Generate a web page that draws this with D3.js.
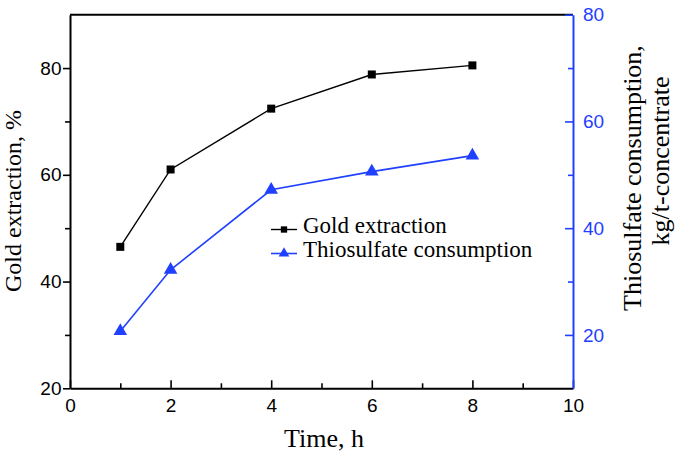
<!DOCTYPE html>
<html>
<head>
<meta charset="utf-8">
<script src="https://cdn.jsdelivr.net/npm/d3@7"></script>
<style>
  html, body { margin: 0; padding: 0; background: #fff; }
  svg { display: block; }
</style>
</head>
<body>
<script>
// ---- data ----
const times = [1, 2, 4, 6, 8];
const goldExtraction = [46.5, 61.0, 72.4, 78.8, 80.5];
const thiosulfateConsumption = [20.7, 32.2, 47.2, 50.6, 53.6];
const xTicks = [0, 2, 4, 6, 8, 10];
const xMinorTicks = [1, 3, 5, 7, 9];
const leftTicks = [20, 40, 60, 80];
const leftMinorTicks = [30, 50, 70];
const rightTicks = [20, 40, 60, 80];
const rightMinorTicks = [30, 50, 70];
const seriesNames = ["Gold extraction", "Thiosulfate consumption"];

// ---- layout ----
const W = 685, H = 459;
const pLeft = 70, pRight = 573, pTop = 14.7, pBottom = 388.3;
const BLUE = "#1f40ff";
const serif = "'Liberation Serif', 'Times New Roman', serif";
const sans = "'Liberation Sans', Arial, sans-serif";

const svg = d3.select("body").append("svg").attr("width", W).attr("height", H);

const x = d3.scaleLinear().domain([0, 10]).range([pLeft, pRight]);
const yL = d3.scaleLinear().domain([20, 90]).range([pBottom, pTop]);
const yR = d3.scaleLinear().domain([10, 80]).range([pBottom, pTop]);

function styleAxis(g, color) {
  g.selectAll("path.domain").attr("stroke", color).attr("stroke-width", 2);
  g.selectAll(".tick line").attr("stroke", color).attr("stroke-width", 1.6);
  g.selectAll(".tick text").attr("fill", color).style("font-family", sans).style("font-size", "19px");
}

// top frame line
svg.append("line").attr("x1", pLeft).attr("x2", pRight).attr("y1", pTop).attr("y2", pTop)
  .attr("stroke", "#000").attr("stroke-width", 2);

// bottom axis (ticks inward)
const gx = svg.append("g").attr("transform", `translate(0,${pBottom})`)
  .call(d3.axisBottom(x).tickValues(xTicks).tickSize(-8).tickSizeOuter(0).tickPadding(10).tickFormat(d3.format("d")));
styleAxis(gx, "#000");
const gxm = svg.append("g").attr("transform", `translate(0,${pBottom})`)
  .call(d3.axisBottom(x).tickValues(xMinorTicks).tickSize(-5).tickSizeOuter(0).tickFormat(""));
gxm.select("path.domain").remove();
styleAxis(gxm, "#000");

// left axis (ticks outward)
const gl = svg.append("g").attr("transform", `translate(${pLeft},0)`)
  .call(d3.axisLeft(yL).tickValues(leftTicks).tickSize(7).tickSizeOuter(0).tickPadding(1.5));
styleAxis(gl, "#000");
const glm = svg.append("g").attr("transform", `translate(${pLeft},0)`)
  .call(d3.axisLeft(yL).tickValues(leftMinorTicks).tickSize(5).tickSizeOuter(0).tickFormat(""));
glm.select("path.domain").remove();
styleAxis(glm, "#000");

// right axis (ticks inward)
const gr = svg.append("g").attr("transform", `translate(${pRight},0)`)
  .call(d3.axisRight(yR).tickValues(rightTicks).tickSize(-8).tickSizeOuter(0).tickPadding(10));
styleAxis(gr, BLUE);
const grm = svg.append("g").attr("transform", `translate(${pRight},0)`)
  .call(d3.axisRight(yR).tickValues(rightMinorTicks).tickSize(-5).tickSizeOuter(0).tickFormat(""));
grm.select("path.domain").remove();
styleAxis(grm, BLUE);

// axis titles
svg.append("text").attr("x", 324).attr("y", 447).attr("text-anchor", "middle")
  .style("font-family", serif).style("font-size", "26px").text("Time, h");
svg.append("text").attr("transform", "translate(21,201) rotate(-90)").attr("text-anchor", "middle")
  .style("font-family", serif).style("font-size", "24px").text("Gold extraction, %");
svg.append("text").attr("transform", "translate(641,178) rotate(-90)").attr("text-anchor", "middle")
  .style("font-family", serif).style("font-size", "26px").text("Thiosulfate consumption,");
svg.append("text").attr("transform", "translate(669,161) rotate(-90)").attr("text-anchor", "middle")
  .style("font-family", serif).style("font-size", "26px").text("kg/t-concentrate");

// series
const goldData = times.map((t, i) => [t, goldExtraction[i]]);
const thioData = times.map((t, i) => [t, thiosulfateConsumption[i]]);

svg.append("path").datum(goldData)
  .attr("d", d3.line().x(d => x(d[0])).y(d => yL(d[1])))
  .attr("fill", "none").attr("stroke", "#000").attr("stroke-width", 1.4);
svg.append("path").datum(thioData)
  .attr("d", d3.line().x(d => x(d[0])).y(d => yR(d[1])))
  .attr("fill", "none").attr("stroke", BLUE).attr("stroke-width", 1.6);

const sq = d3.symbol().type(d3.symbolSquare).size(64);
const tri = d3.symbol().type(d3.symbolTriangle).size(80);

svg.selectAll("path.gold").data(goldData).enter().append("path")
  .attr("class", "gold").attr("d", sq)
  .attr("transform", d => `translate(${x(d[0])},${yL(d[1])})`).attr("fill", "#000");
svg.selectAll("path.thio").data(thioData).enter().append("path")
  .attr("class", "thio").attr("d", tri)
  .attr("transform", d => `translate(${x(d[0])},${yR(d[1])})`).attr("fill", BLUE);

// legend
const lg = svg.append("g");
const rows = [
  { name: seriesNames[0], color: "#000", sym: d3.symbol().type(d3.symbolSquare).size(40), y: 229.5, sw: 1.4 },
  { name: seriesNames[1], color: BLUE, sym: d3.symbol().type(d3.symbolTriangle).size(50), y: 253.5, sw: 1.6 }
];
rows.forEach(r => {
  lg.append("line").attr("x1", 271).attr("x2", 297).attr("y1", r.y).attr("y2", r.y)
    .attr("stroke", r.color).attr("stroke-width", r.sw);
  lg.append("path").attr("d", r.sym).attr("transform", `translate(284,${r.y})`).attr("fill", r.color);
  lg.append("text").attr("x", 303).attr("y", r.y + 3.5)
    .style("font-family", serif).style("font-size", "23px").text(r.name);
});
</script>
</body>
</html>
